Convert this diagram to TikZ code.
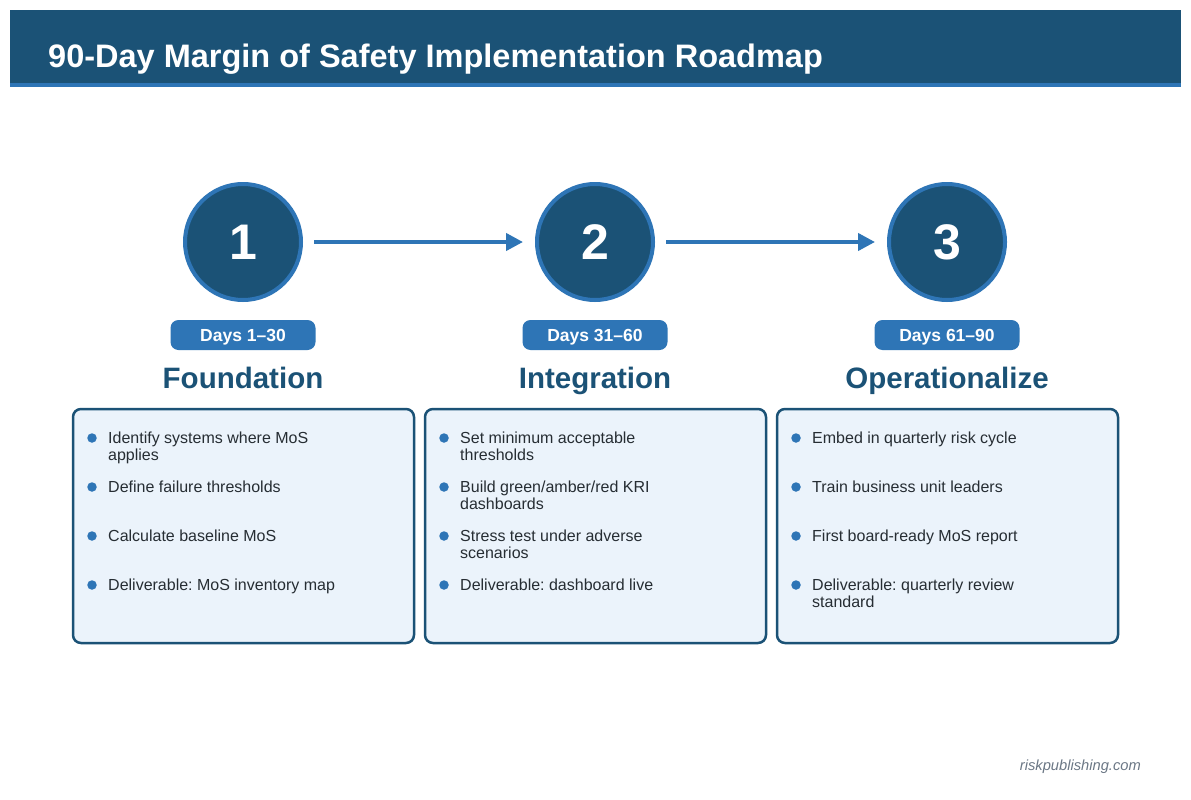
\documentclass[tikz,border=0pt]{standalone}
\usepackage{fontspec}
\setmainfont{Liberation Sans}
\frenchspacing
\usetikzlibrary{arrows.meta}
\definecolor{navy}{HTML}{1B5276}
\definecolor{accent}{HTML}{2E75B6}
\definecolor{boxfill}{HTML}{EBF3FB}
\definecolor{itemtext}{HTML}{262D33}
\definecolor{footgray}{HTML}{6B7785}
\tikzset{
  stepcircle/.style={circle, minimum size=116pt, fill=navy, draw=accent, line width=4pt, text=white, font=\fontsize{50}{56}\selectfont\bfseries, inner sep=0pt},
  flowarrow/.style={draw=accent, line width=4pt, -{Triangle[length=17pt,width=17pt]}, shorten <=11pt, shorten >=12pt},
  pill/.style={fill=accent, rounded corners=8pt, minimum width=145pt, minimum height=30pt, text=white, font=\fontsize{17.5}{20}\selectfont\bfseries, inner sep=0pt, text height=12.5pt, text depth=0pt},
  phasetitle/.style={text=navy, font=\fontsize{29.5}{33}\selectfont\bfseries, inner sep=0pt, anchor=base},
  phasebox/.style={draw=navy, fill=boxfill, line width=2.5pt, rounded corners=8pt, minimum width=341pt, minimum height=234pt, inner sep=0pt},
  itemtxt/.style={anchor=base west, inner sep=0pt, align=left, text=itemtext, font=\fontsize{16}{17}\selectfont},
  dot/.style={circle, fill=accent, minimum size=9.5pt, inner sep=0pt},
}
\begin{document}
\begin{tikzpicture}[x=1pt,y=-1pt]
\useasboundingbox (0,0) rectangle (1191,800);
\fill[white] (0,0) rectangle (1191,800);
% header
\fill[navy] (10,10) rectangle (1181,83);
\fill[accent] (10,83) rectangle (1181,87);
\node[anchor=base west, text=white, font=\fontsize{32.5}{38}\selectfont\bfseries, inner sep=0pt] (title) at (48,67) {90-Day Margin of Safety Implementation Roadmap};
% circles
\node[stepcircle] (c1) at (243,242) {1};
\node[stepcircle] (c2) at (595,242) {2};
\node[stepcircle] (c3) at (947,242) {3};
\draw[flowarrow] (c1) -- (c2);
\draw[flowarrow] (c2) -- (c3);
% pills
\node[pill] (p1) at (243,335) {Days 1–30};
\node[pill] (p2) at (595,335) {Days 31–60};
\node[pill] (p3) at (947,335) {Days 61–90};
% titles
\node[phasetitle] (t1) at (243,388) {Foundation};
\node[phasetitle] (t2) at (595,388) {Integration};
\node[phasetitle] (t3) at (947,388) {Operationalize};
% boxes
\node[phasebox] (b1) at (243.5,526) {};
\node[phasebox] (b2) at (595.5,526) {};
\node[phasebox] (b3) at (947.5,526) {};
% box 1 items (multi-line items are placed by the baseline of their last line)
\node[dot] (d11) at (92,438) {};
\node[itemtxt] (i11) at (108,460) {Identify systems where MoS\\applies};
\node[dot] (d12) at (92,487) {};
\node[itemtxt] (i12) at (108,492) {Define failure thresholds};
\node[dot] (d13) at (92,536) {};
\node[itemtxt] (i13) at (108,541) {Calculate baseline MoS};
\node[dot] (d14) at (92,585) {};
\node[itemtxt] (i14) at (108,590) {Deliverable: MoS inventory map};
% box 2 items
\node[dot] (d21) at (444,438) {};
\node[itemtxt] (i21) at (460,460) {Set minimum acceptable\\thresholds};
\node[dot] (d22) at (444,487) {};
\node[itemtxt] (i22) at (460,509) {Build green/amber/red KRI\\dashboards};
\node[dot] (d23) at (444,536) {};
\node[itemtxt] (i23) at (460,558) {Stress test under adverse\\scenarios};
\node[dot] (d24) at (444,585) {};
\node[itemtxt] (i24) at (460,590) {Deliverable: dashboard live};
% box 3 items
\node[dot] (d31) at (796,438) {};
\node[itemtxt] (i31) at (812,443) {Embed in quarterly risk cycle};
\node[dot] (d32) at (796,487) {};
\node[itemtxt] (i32) at (812,492) {Train business unit leaders};
\node[dot] (d33) at (796,536) {};
\node[itemtxt] (i33) at (812,541) {First board-ready MoS report};
\node[dot] (d34) at (796,585) {};
\node[itemtxt] (i34) at (812,607) {Deliverable: quarterly review\\standard};
% footer
\node[anchor=base east, inner sep=0pt, text=footgray, font=\fontsize{14.7}{17}\selectfont\itshape] (foot) at (1141,770) {riskpublishing.com};
\end{tikzpicture}
\end{document}
